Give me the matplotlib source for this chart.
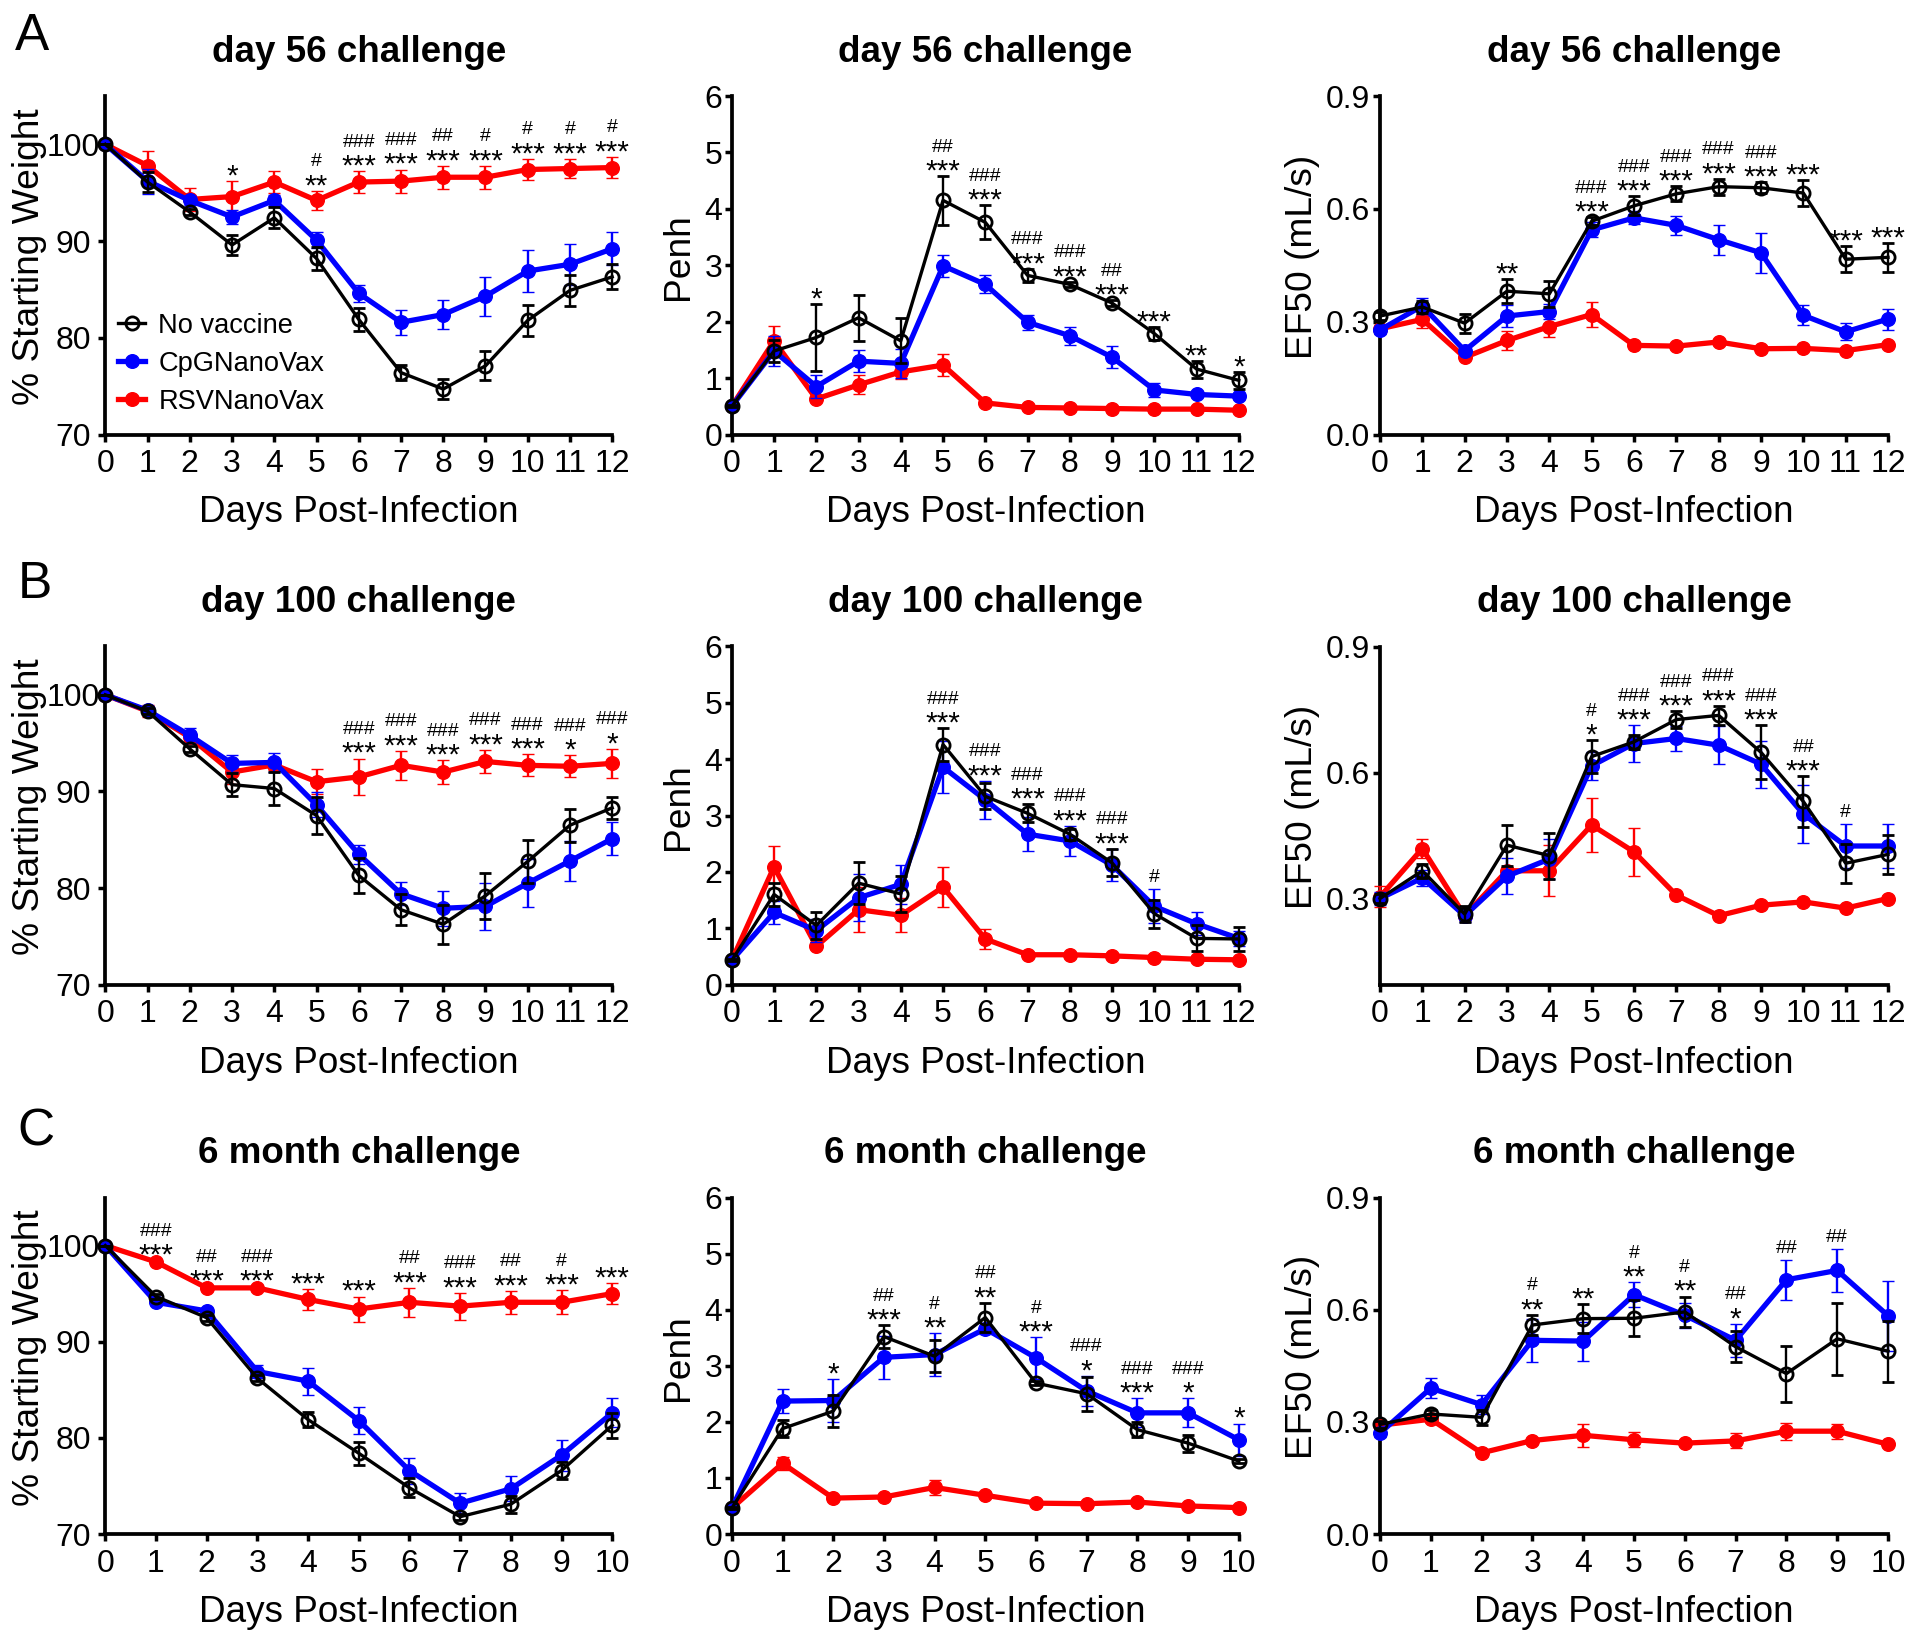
import matplotlib
matplotlib.use("Agg")
import matplotlib.pyplot as plt
from matplotlib.lines import Line2D

plt.rcParams['font.family'] = ['Liberation Sans', 'DejaVu Sans']

# ---------------- data ----------------
GROUPS = ['No vaccine', 'CpGNanoVax', 'RSVNanoVax']
days12 = list(range(13))
days10 = list(range(11))
xticks12 = [str(d) for d in days12]
xticks10 = [str(d) for d in days10]

weight_yticks = [70, 80, 90, 100]
penh_yticks = [0, 1, 2, 3, 4, 5, 6]
ef50_yticks = [0.0, 0.3, 0.6, 0.9]
ef50_yticks_b = [0.3, 0.6, 0.9]

row_titles = ['day 56 challenge', 'day 100 challenge', '6 month challenge']
panel_letters = ['A', 'B', 'C']

# Row A (day 56) - weight
A_w_nv = [100, 96.1, 93.0, 89.6, 92.4, 88.2, 81.9, 76.4, 74.7, 77.1, 81.8, 84.9, 86.3]
A_w_nv_err = [0, 1.0, 0.3, 1.0, 1.1, 1.2, 1.2, 0.8, 1.0, 1.5, 1.6, 1.6, 1.3]
A_w_cpg = [100, 96.2, 94.2, 92.5, 94.2, 90.1, 84.6, 81.6, 82.4, 84.3, 86.9, 87.6, 89.2]
A_w_cpg_err = [0, 1.3, 0.5, 0.7, 0.6, 0.8, 0.9, 1.3, 1.5, 2.0, 2.2, 2.1, 1.7]
A_w_rsv = [100, 97.8, 94.3, 94.6, 96.1, 94.2, 96.1, 96.2, 96.6, 96.6, 97.4, 97.5, 97.6]
A_w_rsv_err = [0, 1.5, 1.2, 1.6, 1.1, 1.0, 1.1, 1.2, 1.2, 1.2, 1.1, 1.0, 1.1]
A_w_stars = ['', '', '', '*', '', '**', '***', '***', '***', '***', '***', '***', '***']
A_w_hash = ['', '', '', '', '', '#', '###', '###', '##', '#', '#', '#', '#']

# Row A - Penh
A_p_nv = [0.50, 1.48, 1.72, 2.07, 1.66, 4.15, 3.76, 2.82, 2.66, 2.33, 1.79, 1.16, 0.96]
A_p_nv_err = [0.02, 0.2, 0.6, 0.41, 0.4, 0.43, 0.3, 0.12, 0.05, 0.05, 0.12, 0.15, 0.15]
A_p_cpg = [0.50, 1.48, 0.85, 1.30, 1.26, 2.99, 2.66, 1.99, 1.75, 1.37, 0.79, 0.71, 0.68]
A_p_cpg_err = [0.02, 0.27, 0.2, 0.2, 0.25, 0.2, 0.16, 0.13, 0.16, 0.19, 0.13, 0.05, 0.04]
A_p_rsv = [0.50, 1.66, 0.63, 0.88, 1.11, 1.23, 0.56, 0.48, 0.47, 0.46, 0.45, 0.45, 0.43]
A_p_rsv_err = [0.02, 0.27, 0.03, 0.17, 0.12, 0.2, 0.03, 0.02, 0.02, 0.02, 0.02, 0.02, 0.02]
A_p_stars = ['', '', '*', '', '', '***', '***', '***', '***', '***', '***', '**', '*']
A_p_hash = ['', '', '', '', '', '##', '###', '###', '###', '##', '', '', '']

# Row A - EF50
A_e_nv = [0.315, 0.339, 0.296, 0.381, 0.374, 0.567, 0.608, 0.640, 0.659, 0.656, 0.642, 0.466, 0.471]
A_e_nv_err = [0.01, 0.015, 0.025, 0.032, 0.035, 0.01, 0.025, 0.02, 0.021, 0.015, 0.035, 0.035, 0.038]
A_e_cpg = [0.278, 0.342, 0.223, 0.315, 0.327, 0.544, 0.576, 0.556, 0.518, 0.483, 0.317, 0.273, 0.307]
A_e_cpg_err = [0.01, 0.021, 0.01, 0.03, 0.02, 0.02, 0.017, 0.025, 0.04, 0.054, 0.027, 0.023, 0.028]
A_e_rsv = [0.281, 0.306, 0.205, 0.250, 0.287, 0.319, 0.237, 0.235, 0.246, 0.228, 0.229, 0.223, 0.239]
A_e_rsv_err = [0.01, 0.023, 0.005, 0.025, 0.027, 0.032, 0.005, 0.005, 0.005, 0.005, 0.005, 0.005, 0.005]
A_e_stars = ['', '', '', '**', '', '***', '***', '***', '***', '***', '***', '***', '***']
A_e_hash = ['', '', '', '', '', '###', '###', '###', '###', '###', '', '', '']

# Row B (day 100) - weight
B_w_nv = [100, 98.3, 94.4, 90.7, 90.3, 87.5, 81.3, 77.75, 76.25, 79.2, 82.75, 86.5, 88.3]
B_w_nv_err = [0, 0.3, 0.3, 1.2, 1.7, 1.9, 1.8, 1.6, 2.0, 2.4, 2.25, 1.7, 1.15]
B_w_cpg = [100, 98.4, 95.8, 92.9, 93.0, 88.6, 83.5, 79.4, 77.9, 78.1, 80.5, 82.8, 85.1]
B_w_cpg_err = [0, 0.3, 0.8, 0.9, 1.0, 1.3, 1.0, 1.2, 1.8, 2.4, 2.5, 2.1, 1.7]
B_w_rsv = [100, 98.3, 95.6, 92.0, 92.75, 91.0, 91.5, 92.7, 92.0, 93.1, 92.7, 92.6, 92.9]
B_w_rsv_err = [0, 0.6, 0.5, 1.25, 0.5, 1.3, 1.9, 1.5, 1.25, 1.2, 1.15, 1.15, 1.5]
B_w_stars = ['', '', '', '', '', '', '***', '***', '***', '***', '***', '*', '*']
B_w_hash = ['', '', '', '', '', '', '###', '###', '###', '###', '###', '###', '###']

# Row B - Penh
B_p_nv = [0.43, 1.60, 1.05, 1.80, 1.61, 4.26, 3.34, 3.04, 2.67, 2.16, 1.26, 0.82, 0.81]
B_p_nv_err = [0.02, 0.2, 0.24, 0.37, 0.32, 0.29, 0.23, 0.16, 0.1, 0.24, 0.25, 0.23, 0.21]
B_p_cpg = [0.43, 1.28, 0.96, 1.54, 1.78, 3.86, 3.28, 2.67, 2.55, 2.12, 1.39, 1.08, 0.82]
B_p_cpg_err = [0.02, 0.2, 0.2, 0.42, 0.35, 0.46, 0.34, 0.3, 0.27, 0.29, 0.3, 0.2, 0.14]
B_p_rsv = [0.43, 2.09, 0.68, 1.33, 1.23, 1.73, 0.81, 0.53, 0.53, 0.51, 0.48, 0.45, 0.44]
B_p_rsv_err = [0.02, 0.37, 0.03, 0.4, 0.3, 0.35, 0.18, 0.02, 0.02, 0.02, 0.02, 0.02, 0.02]
B_p_stars = ['', '', '', '', '', '***', '***', '***', '***', '***', '', '', '']
B_p_hash = ['', '', '', '', '', '###', '###', '###', '###', '###', '#', '', '']

# Row B - EF50
B_e_nv = [0.300, 0.366, 0.263, 0.427, 0.402, 0.638, 0.673, 0.726, 0.736, 0.648, 0.531, 0.384, 0.405]
B_e_nv_err = [0.01, 0.016, 0.02, 0.049, 0.055, 0.039, 0.016, 0.02, 0.023, 0.064, 0.06, 0.046, 0.047]
B_e_cpg = [0.300, 0.349, 0.259, 0.353, 0.394, 0.616, 0.669, 0.681, 0.665, 0.620, 0.501, 0.425, 0.425]
B_e_cpg_err = [0.015, 0.02, 0.015, 0.043, 0.047, 0.033, 0.043, 0.029, 0.045, 0.056, 0.07, 0.052, 0.052]
B_e_rsv = [0.304, 0.419, 0.259, 0.366, 0.366, 0.475, 0.411, 0.308, 0.259, 0.284, 0.292, 0.277, 0.300]
B_e_rsv_err = [0.025, 0.022, 0.005, 0.01, 0.061, 0.065, 0.057, 0.005, 0.005, 0.005, 0.005, 0.005, 0.005]
B_e_stars = ['', '', '', '', '', '*', '***', '***', '***', '***', '***', '', '']
B_e_hash = ['', '', '', '', '', '#', '###', '###', '###', '###', '##', '#', '']

# Row C (6 month) - weight
C_w_nv = [100, 94.7, 92.5, 86.2, 81.9, 78.4, 74.8, 71.8, 73.1, 76.6, 81.3]
C_w_nv_err = [0, 0.3, 0.3, 0.3, 0.8, 1.2, 1.0, 0.3, 0.9, 0.9, 1.3]
C_w_cpg = [100, 94.1, 93.2, 86.9, 85.9, 81.8, 76.6, 73.2, 74.7, 78.2, 82.6]
C_w_cpg_err = [0, 0.3, 0.3, 0.7, 1.4, 1.4, 1.35, 1.05, 1.3, 1.6, 1.5]
C_w_rsv = [100, 98.3, 95.6, 95.6, 94.4, 93.4, 94.1, 93.7, 94.1, 94.1, 95.0]
C_w_rsv_err = [0, 0.2, 0.2, 0.2, 1.1, 1.3, 1.5, 1.4, 1.2, 1.25, 1.1]
C_w_stars = ['', '***', '***', '***', '***', '***', '***', '***', '***', '***', '***']
C_w_hash = ['', '###', '##', '###', '', '', '##', '###', '##', '#', '']

# Row C - Penh
C_p_nv = [0.46, 1.88, 2.19, 3.52, 3.17, 3.86, 2.69, 2.50, 1.86, 1.62, 1.30]
C_p_nv_err = [0.02, 0.15, 0.28, 0.2, 0.29, 0.26, 0.03, 0.3, 0.13, 0.15, 0.03]
C_p_cpg = [0.46, 2.37, 2.38, 3.15, 3.20, 3.66, 3.14, 2.55, 2.16, 2.16, 1.68]
C_p_cpg_err = [0.02, 0.21, 0.38, 0.38, 0.38, 0.1, 0.37, 0.27, 0.26, 0.26, 0.29]
C_p_rsv = [0.46, 1.26, 0.64, 0.66, 0.83, 0.69, 0.55, 0.54, 0.57, 0.50, 0.47]
C_p_rsv_err = [0.02, 0.12, 0.03, 0.03, 0.13, 0.03, 0.03, 0.03, 0.03, 0.03, 0.03]
C_p_stars = ['', '', '*', '***', '**', '**', '***', '*', '***', '*', '*']
C_p_hash = ['', '', '', '##', '#', '##', '#', '###', '###', '###', '']

# Row C - EF50
C_e_nv = [0.293, 0.321, 0.312, 0.559, 0.576, 0.577, 0.594, 0.501, 0.429, 0.522, 0.489]
C_e_nv_err = [0.01, 0.01, 0.02, 0.027, 0.038, 0.048, 0.041, 0.041, 0.075, 0.096, 0.082]
C_e_cpg = [0.270, 0.390, 0.346, 0.518, 0.516, 0.640, 0.585, 0.518, 0.680, 0.705, 0.584]
C_e_cpg_err = [0.01, 0.026, 0.025, 0.058, 0.052, 0.034, 0.034, 0.044, 0.053, 0.057, 0.094]
C_e_rsv = [0.291, 0.307, 0.217, 0.250, 0.264, 0.252, 0.243, 0.249, 0.275, 0.275, 0.240]
C_e_rsv_err = [0.005, 0.005, 0.005, 0.005, 0.03, 0.02, 0.005, 0.02, 0.023, 0.02, 0.005]
C_e_stars = ['', '', '', '**', '**', '**', '**', '*', '', '', '']
C_e_hash = ['', '', '', '#', '', '#', '#', '##', '##', '##', '']

# ---------------- styling ----------------
W, H = 1920, 1638
BLUE = '#0000FF'
RED = '#FF0000'
col_px = [(105.3, 612.2), (731.8, 1238.8), (1380.0, 1888.0)]
row_px = [(96.0, 434.5), (646.5, 984.6), (1197.5, 1534.0)]
ylabel_x = [-0.150, -0.105, -0.152]

styles = {
    'rsv': dict(color=RED, lw=3.8, marker='o', ms=9.8, mfc=RED, mec=RED, mew=1, zorder=3),
    'cpg': dict(color=BLUE, lw=3.8, marker='o', ms=9.8, mfc=BLUE, mec=BLUE, mew=1, zorder=4),
    'nv': dict(color='black', lw=2.4, marker='o', ms=9.5, mfc='none', mec='black', mew=2.0, zorder=5),
}

fig = plt.figure(figsize=(W / 100, H / 100), dpi=100)


def make_ax(r, c):
    x0, x1 = col_px[c]
    y0, y1 = row_px[r]
    return fig.add_axes([x0 / W, 1 - y1 / H, (x1 - x0) / W, (y1 - y0) / H])


def draw_panel(r, c, days, xlabels, nv, nv_err, cpg, cpg_err, rsv, rsv_err,
               stars, hashes, ylim, yticks, yticklabels, ylabel):
    ax = make_ax(r, c)
    axh = row_px[r][1] - row_px[r][0]
    for key, vals, errs in (('rsv', rsv, rsv_err), ('cpg', cpg, cpg_err), ('nv', nv, nv_err)):
        st = styles[key]
        cont = ax.errorbar(days, vals, yerr=errs, capsize=4.3, elinewidth=1.7,
                           capthick=1.7, ecolor=st['color'], **st)
        for art in cont.get_children():
            art.set_clip_on(False)
    ax.set_xlim(days[0], days[-1])
    ax.set_ylim(*ylim)
    ax.set_xticks(days)
    ax.set_xticklabels(xlabels)
    ax.set_yticks(yticks)
    ax.set_yticklabels(yticklabels)
    for s in ('top', 'right'):
        ax.spines[s].set_visible(False)
    for s in ('left', 'bottom'):
        ax.spines[s].set_linewidth(2.7)
    ax.tick_params(axis='both', width=2.5, length=5, labelsize=23, direction='out')
    ax.tick_params(axis='x', pad=5.5)
    if c == 0:
        ax.tick_params(axis='y', pad=18)
        for t in ax.get_yticklabels():
            t.set_ha('center')
    else:
        ax.tick_params(axis='y', pad=2)
    ax.set_xlabel('Days Post-Infection', fontsize=26.6)
    ax.xaxis.label.set_va('baseline')
    ax.xaxis.set_label_coords(0.5, -88 / axh)
    ax.set_ylabel(ylabel, fontsize=26.7)
    ax.yaxis.label.set_va('center')
    ax.yaxis.set_label_coords(ylabel_x[c], 0.525)
    ax.text(0.5, 1 + 34.5 / axh, row_titles[r], transform=ax.transAxes,
            ha='center', va='baseline', fontsize=26.5, fontweight='bold')
    # significance marks above the highest error bar of each day
    for i, d in enumerate(days):
        top = max(nv[i] + nv_err[i], cpg[i] + cpg_err[i], rsv[i] + rsv_err[i])
        if stars[i]:
            ax.annotate(stars[i], (d, top), xytext=(0, -2.5), textcoords='offset points',
                        ha='center', va='baseline', fontsize=21.5, annotation_clip=False)
        if hashes[i]:
            off = 17.6 if stars[i] else 5.2
            ax.annotate(hashes[i], (d, top), xytext=(0, off), textcoords='offset points',
                        ha='center', va='baseline', fontsize=14, annotation_clip=False)
    return ax


wl = [str(v) for v in weight_yticks]
pl = [str(v) for v in penh_yticks]
el = ['%.1f' % v for v in ef50_yticks]
elb = ['%.1f' % v for v in ef50_yticks_b]

axA = draw_panel(0, 0, days12, xticks12, A_w_nv, A_w_nv_err, A_w_cpg, A_w_cpg_err, A_w_rsv, A_w_rsv_err,
                 A_w_stars, A_w_hash, (70, 105), weight_yticks, wl, '% Starting Weight')
draw_panel(0, 1, days12, xticks12, A_p_nv, A_p_nv_err, A_p_cpg, A_p_cpg_err, A_p_rsv, A_p_rsv_err,
           A_p_stars, A_p_hash, (0, 6), penh_yticks, pl, 'Penh')
draw_panel(0, 2, days12, xticks12, A_e_nv, A_e_nv_err, A_e_cpg, A_e_cpg_err, A_e_rsv, A_e_rsv_err,
           A_e_stars, A_e_hash, (0, 0.9), ef50_yticks, el, 'EF50 (mL/s)')

draw_panel(1, 0, days12, xticks12, B_w_nv, B_w_nv_err, B_w_cpg, B_w_cpg_err, B_w_rsv, B_w_rsv_err,
           B_w_stars, B_w_hash, (70, 105), weight_yticks, wl, '% Starting Weight')
draw_panel(1, 1, days12, xticks12, B_p_nv, B_p_nv_err, B_p_cpg, B_p_cpg_err, B_p_rsv, B_p_rsv_err,
           B_p_stars, B_p_hash, (0, 6), penh_yticks, pl, 'Penh')
draw_panel(1, 2, days12, xticks12, B_e_nv, B_e_nv_err, B_e_cpg, B_e_cpg_err, B_e_rsv, B_e_rsv_err,
           B_e_stars, B_e_hash, (0.095, 0.9), ef50_yticks_b, elb, 'EF50 (mL/s)')

draw_panel(2, 0, days10, xticks10, C_w_nv, C_w_nv_err, C_w_cpg, C_w_cpg_err, C_w_rsv, C_w_rsv_err,
           C_w_stars, C_w_hash, (70, 105), weight_yticks, wl, '% Starting Weight')
draw_panel(2, 1, days10, xticks10, C_p_nv, C_p_nv_err, C_p_cpg, C_p_cpg_err, C_p_rsv, C_p_rsv_err,
           C_p_stars, C_p_hash, (0, 6), penh_yticks, pl, 'Penh')
draw_panel(2, 2, days10, xticks10, C_e_nv, C_e_nv_err, C_e_cpg, C_e_cpg_err, C_e_rsv, C_e_rsv_err,
           C_e_stars, C_e_hash, (0, 0.9), ef50_yticks, el, 'EF50 (mL/s)')

# legend in panel A weight
handles = [Line2D([], [], **{k: v for k, v in styles[k2].items() if k != 'zorder'})
           for k2 in ('nv', 'cpg', 'rsv')]
axA.legend(handles, GROUPS, loc='upper left', bbox_to_anchor=(0.025, 0.359), frameon=False,
           fontsize=19.6, handlelength=1.0, handletextpad=0.48, labelspacing=0.44,
           borderpad=0, borderaxespad=0)

# panel letters
for letter, (lx, ly) in zip(panel_letters, [(15, 50), (18, 597.5), (17, 1146)]):
    fig.text(lx / W, 1 - ly / H, letter, fontsize=37, ha='left', va='baseline')

fig.savefig('out.png', dpi=100, facecolor='white')
